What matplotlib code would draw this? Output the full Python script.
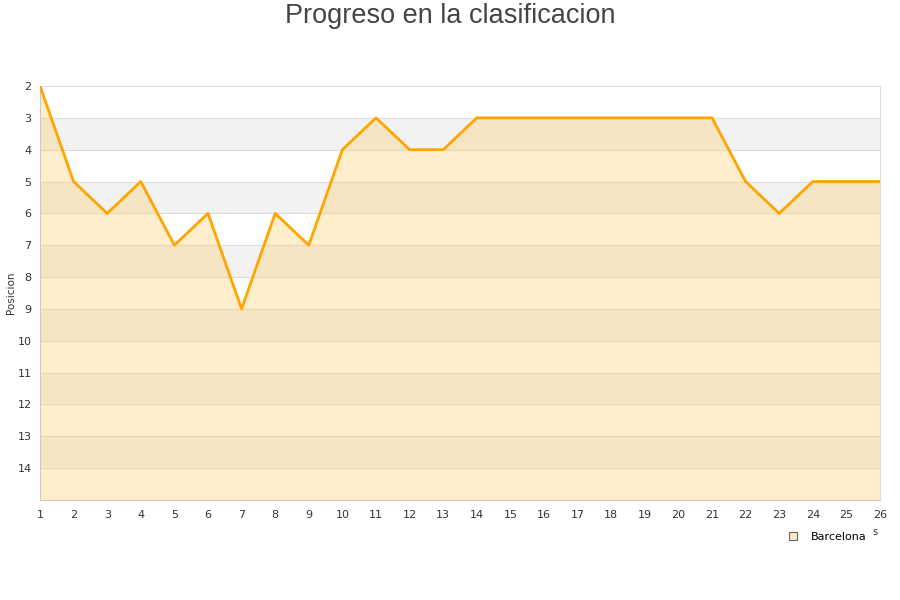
import numpy as np
import matplotlib.pyplot as plt
from matplotlib.lines import Line2D

# datos
jornadas = list(range(1, 27))
posicion = [2, 5, 6, 5, 7, 6, 9, 6, 7, 4, 3, 4, 4, 3, 3, 3, 3, 3, 3, 3, 3, 5, 6, 5, 5, 5]
y_ticks = list(range(2, 15))

plt.rcParams['font.family'] = ['DejaVu Sans']

fig = plt.figure(figsize=(9, 6), dpi=100)
ax = fig.add_axes([40/900, 100/600, 840/900, 414/600])

# bandas alternas
for y0 in range(2, 15):
    if y0 % 2 == 1:
        ax.axhspan(y0, y0 + 1, color='#f2f2f2', lw=0, zorder=0)
for y0 in y_ticks:
    ax.axhline(y0, color='#dddddd', lw=0.8, zorder=1)

ax.fill_between(jornadas, posicion, 15, color='#ffcc66', alpha=0.33, lw=0, zorder=2)
ax.plot(jornadas, posicion, color='#ffa500', lw=2.0, zorder=3)

ax.set_xlim(1, 26)
ax.set_ylim(15, 2)
ax.set_xticks(jornadas)
ax.set_yticks(y_ticks)
ax.tick_params(axis='y', length=0, labelsize=8, colors='#333333', pad=6)
ax.tick_params(axis='x', length=0, labelsize=8, colors='#333333', pad=7)
for s in ax.spines.values():
    s.set_color('#dddddd')
    s.set_linewidth(0.8)
ax.spines['left'].set_color('#cccccc')
ax.spines['bottom'].set_color('#cccccc')

fig.text(11/900, 1 - 293/600, 'Posicion', fontsize=7.5, color='#333333',
         rotation=90, ha='center', va='center')
fig.text(0.5, 1 - 16/600, 'Progreso en la clasificacion', fontsize=19.5, color='#444444',
         family='Liberation Sans', ha='center', va='center')

handle = Line2D([], [], marker='s', ls='none', markersize=6,
                markerfacecolor='#fdebc8', markeredgecolor='#666666', markeredgewidth=0.8)
fig.legend([handle], ['Barcelona'], loc='center', bbox_to_anchor=(824/900, 1 - 537/600),
           frameon=False, fontsize=8, handletextpad=0.6)
fig.text(875/900, 1 - 532/600, 's', fontsize=7, color='#333333', ha='center', va='center')

fig.savefig('out.png', dpi=100)
